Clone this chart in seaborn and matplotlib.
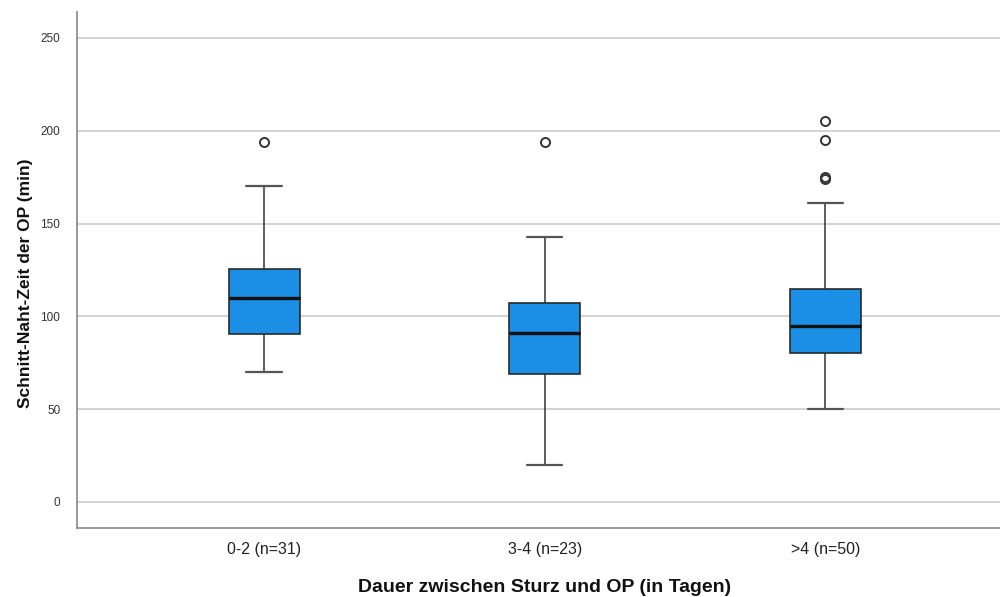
import matplotlib
matplotlib.use("Agg")
import matplotlib.pyplot as plt
import seaborn as sns

# ---- data ----
categories = ["0-2 (n=31)", "3-4 (n=23)", ">4 (n=50)"]
q1 = [90.5, 69, 80]
medians = [110, 91, 95]
q3 = [125.5, 107, 115]
whisker_low = [70, 20, 50]
whisker_high = [170, 143, 161]
outliers = [[194], [194], [205, 195, 175, 174]]
yticks = [0, 50, 100, 150, 200, 250]

sns.set_theme(style="white")
plt.rcParams["font.family"] = ["Liberation Sans", "DejaVu Sans"]

fig = plt.figure(figsize=(10, 5.97), dpi=100)
ax = fig.add_axes([0.077, 0.1156, 0.923, 0.8644])

stats = []
for i, c in enumerate(categories):
    stats.append(dict(label=c, q1=q1[i], med=medians[i], q3=q3[i],
                      whislo=whisker_low[i], whishi=whisker_high[i],
                      fliers=outliers[i]))

ax.bxp(stats, positions=list(range(len(categories))), widths=0.253,
       capwidths=0.126,
       patch_artist=True, showfliers=True,
       boxprops=dict(facecolor="#1a8fe5", edgecolor="#2a2a2a", linewidth=1.2),
       medianprops=dict(color="#111111", linewidth=2.4),
       whiskerprops=dict(color="#333333", linewidth=1.1),
       capprops=dict(color="#555555", linewidth=1.6),
       flierprops=dict(marker="o", markerfacecolor="none",
                       markeredgecolor="#333333", markersize=6.5,
                       markeredgewidth=1.4),
       zorder=3)

ax.set_xlim(-0.667, 2.623)
ax.set_ylim(-14, 264)
ax.set_yticks(yticks)
ax.set_yticklabels([str(v) for v in yticks], fontsize=8.5, color="#333333")
ax.set_xticks(range(len(categories)))
ax.set_xticklabels(categories, fontsize=11.5, color="#222222")
ax.tick_params(axis="both", length=0)
ax.tick_params(axis="y", pad=12)
ax.tick_params(axis="x", pad=10)

ax.yaxis.grid(True, color="#cccccc", linewidth=1.2, zorder=0)
ax.set_axisbelow(True)
for s in ["top", "right"]:
    ax.spines[s].set_visible(False)
for s in ["left", "bottom"]:
    ax.spines[s].set_color("#888888")
    ax.spines[s].set_linewidth(1.2)

ax.set_ylabel("Schnitt-Naht-Zeit der OP (min)", fontsize=12.5,
              fontweight="bold", color="#111111")
ax.set_xlabel("Dauer zwischen Sturz und OP (in Tagen)", fontsize=14,
              fontweight="bold", color="#111111")
ax.yaxis.set_label_coords(-0.048, 0.475)
ax.xaxis.set_label_coords(0.507, -0.099)

fig.savefig("out.png", dpi=100)
